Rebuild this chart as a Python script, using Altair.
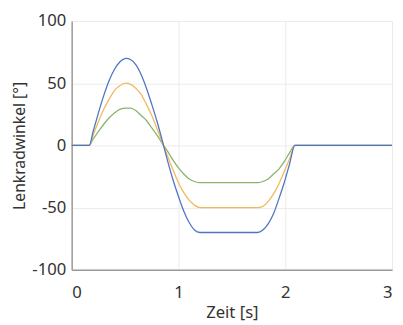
import altair as alt
import pandas as pd

zeit = [0, 0.165, 0.2, 0.25, 0.3, 0.35, 0.4, 0.45, 0.51, 0.55, 0.6, 0.65, 0.7, 0.75, 0.8, 0.86,
        0.9, 0.95, 1.0, 1.05, 1.1, 1.15, 1.2, 1.74, 1.79, 1.84, 1.89, 1.94, 1.99, 2.04, 2.09, 3.0]
blau = [0, 0, 11, 26, 40, 52, 61, 67, 70, 69, 65, 57, 46, 33, 19, 0,
        -13, -28, -41, -53, -62, -68, -70, -70, -68, -63, -55, -43, -30, -15, 0, 0]
orange = [0, 0, 8, 19, 29, 37, 44, 48, 50, 49, 46, 41, 33, 24, 13, 0,
          -9, -20, -30, -38, -44, -48, -50, -50, -49, -45, -39, -31, -21, -11, 0, 0]
gruen = [0, 0, 5, 11, 17, 22, 26, 29, 30, 30, 28, 24, 20, 14, 8, 0,
         -5, -12, -18, -23, -27, -29, -30, -30, -29, -27, -23, -19, -13, -6, 0, 0]

serien = ["gruen", "orange", "blau"]
farben = ["#8ab46c", "#f2b95c", "#4f76c4"]

rows = []
for name, werte in zip(serien, [gruen, orange, blau]):
    for t, v in zip(zeit, werte):
        rows.append({"Zeit": t, "Winkel": v, "Serie": name})
df = pd.DataFrame(rows)

axis_common = dict(labelFontSize=17, titleFontWeight="normal",
                   ticks=False, labelColor="#333", titleColor="#333",
                   domainColor="#9a9a9a", domainWidth=1.5, gridColor="#ebebeb",
                   labelFont="Noto Sans", titleFont="Noto Sans",
                   labelExpr="datum.value + ''")

chart = alt.Chart(df).mark_line(strokeWidth=1.3, interpolate="monotone").encode(
    x=alt.X("Zeit:Q", title="Zeit [s]",
            scale=alt.Scale(domain=[0, 3], nice=False),
            axis=alt.Axis(values=[0, 1, 2, 3], labelPadding=15, titlePadding=5,
                          titleFontSize=17, **axis_common)),
    y=alt.Y("Winkel:Q", title="Lenkradwinkel [°]",
            scale=alt.Scale(domain=[-100, 100], nice=False),
            axis=alt.Axis(values=[-100, -50, 0, 50, 100], labelPadding=6, titlePadding=5,
                          titleFontSize=16, **axis_common)),
    color=alt.Color("Serie:N", scale=alt.Scale(domain=serien, range=farben), legend=None),
    order=alt.Order("Serie:N", sort="ascending"),
).properties(
    width=327, height=254,
    autosize=alt.AutoSizeParams(type="none"),
    padding={"left": 65, "top": 10, "right": 3, "bottom": 50},
).configure_view(stroke=None)

chart.save("out.html", embed_options={"renderer": "svg", "actions": False})
